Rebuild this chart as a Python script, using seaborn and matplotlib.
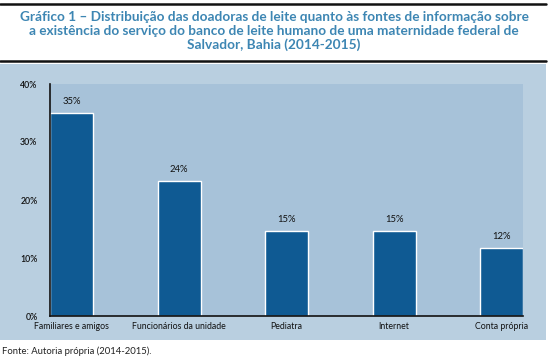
import matplotlib
matplotlib.use("Agg")
import matplotlib.pyplot as plt
import seaborn as sns
import pandas as pd
from matplotlib.patches import Rectangle
from matplotlib.lines import Line2D

# data
fontes = ["Familiares e amigos", "Funcionários da unidade", "Pediatra", "Internet", "Conta própria"]
percentuais = [35.0, 23.3, 14.7, 14.7, 11.7]
rotulos = ["35%", "24%", "15%", "15%", "12%"]

titulo = ("Gráfico 1 – Distribuição das doadoras de leite quanto às fontes de informação sobre\n"
          "a existência do serviço do banco de leite humano de uma maternidade federal de\n"
          "Salvador, Bahia (2014-2015)")
fonte_txt = "Fonte: Autoria própria (2014-2015)."

df = pd.DataFrame({"fonte": fontes, "pct": percentuais})

sns.set_style("white")
plt.rcParams["font.family"] = ["Lato", "DejaVu Sans"]

W, H = 548, 360
fig = plt.figure(figsize=(W / 100, H / 100), dpi=100, facecolor="white")

# outer light panel and rules
fig.patches.append(Rectangle((0, 1 - 340 / H), 546 / W, 276 / H, transform=fig.transFigure,
                             facecolor="#b9cfe0", edgecolor="none", zorder=-5))
fig.add_artist(Line2D([0, 546 / W], [1 - 4 / H, 1 - 4 / H], color="#111111", lw=1.8))
fig.add_artist(Line2D([0, 546 / W], [1 - 61 / H, 1 - 61 / H], color="#111111", lw=1.8))

fig.text(0.5, 1 - 31 / H, titulo, ha="center", va="center", fontsize=9.8,
         fontweight="bold", color="#3d86b3", linespacing=1.15)
fig.text(2 / W, 1 - 351 / H, fonte_txt, ha="left", va="center", fontsize=6.8, color="#222222")

ax = fig.add_axes([50 / W, 1 - 316 / H, 473 / W, 232 / H])
ax.set_zorder(2)
ax.set_facecolor("#a7c2d9")

sns.barplot(data=df, x="fonte", y="pct", color="#0f5a93", saturation=1, width=0.4, ax=ax)

ax.set_xlim(-0.2, 4.2)
ax.set_ylim(0, 40)
ax.set_yticks([0, 10, 20, 30, 40])
ax.set_yticklabels([f"{t}%" for t in [0, 10, 20, 30, 40]], fontsize=6.3, color="#111111",
                   fontweight="semibold")
ax.tick_params(axis="both", length=0)
ax.tick_params(axis="y", pad=9)
ax.tick_params(axis="x", pad=4)
for lbl in ax.get_xticklabels():
    lbl.set_fontsize(6.3)
    lbl.set_color("#111111")
ax.set_xlabel("")
ax.set_ylabel("")

for s in ["top", "right"]:
    ax.spines[s].set_visible(False)
for s in ["left", "bottom"]:
    ax.spines[s].set_color("#111111")
    ax.spines[s].set_linewidth(1.2)

ax.bar_label(ax.containers[0], labels=rotulos, padding=5, fontsize=6.8, color="#111111")

fig.savefig("out.png", dpi=100, facecolor="white")
